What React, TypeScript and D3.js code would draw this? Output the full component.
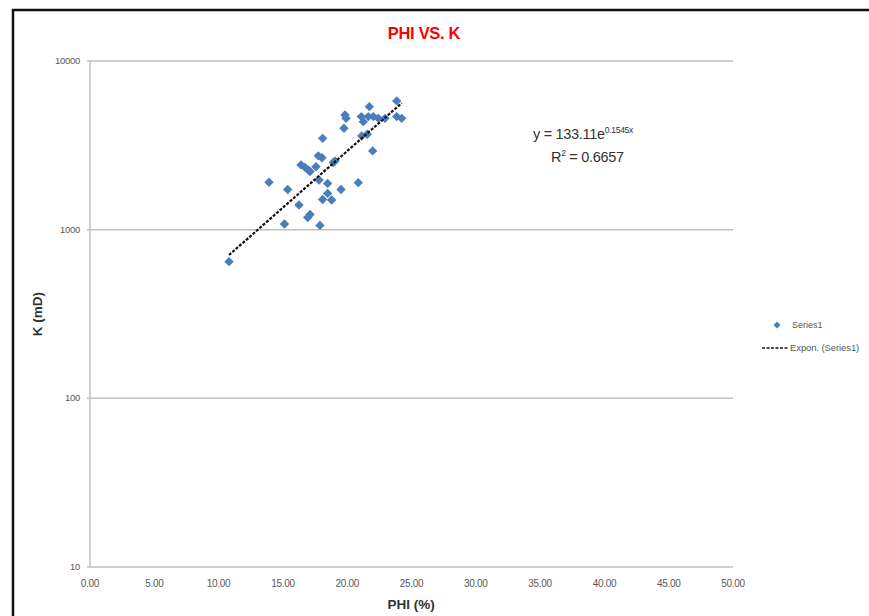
import React from "react";
import * as d3 from "d3";

const phi: number[] = [
  23.85, 21.72, 19.83, 19.91, 21.1, 21.25, 21.64, 22.03, 22.42, 22.94,
  23.85, 24.24, 19.75, 21.13, 21.56, 18.09, 21.98, 17.75, 18.04, 19.05,
  18.92, 16.41, 16.72, 16.98, 17.11, 17.57, 13.92, 17.81, 18.48, 20.86,
  15.37, 19.52, 18.48, 18.09, 18.79, 16.25, 17.11, 16.93, 15.12, 17.88,
  10.81,
];
const perm: number[] = [
  5800, 5360, 4790, 4570, 4680, 4370, 4680, 4680, 4570, 4570,
  4680, 4570, 3990, 3590, 3680, 3480, 2930, 2740, 2670, 2550,
  2500, 2420, 2340, 2260, 2210, 2360, 1910, 1970, 1880, 1900,
  1730, 1730, 1640, 1510, 1500, 1400, 1230, 1180, 1080, 1060,
  646,
];
const xTicks: number[] = [0, 5, 10, 15, 20, 25, 30, 35, 40, 45, 50];
const yTicks: number[] = [10, 100, 1000, 10000];
const trendA = 133.11;
const trendB = 0.1545;
const title = "PHI VS. K";
const xTitle = "PHI (%)";
const yTitle = "K (mD)";
const seriesName = "Series1";
const trendName = "Expon. (Series1)";

const FONT = "'Liberation Sans', Arial, sans-serif";
const BLUE = "#4a7ebb";
const GRID = "#bfbfbf";
const TXT = "#595959";

export default function App() {
  const W = 869;
  const H = 616;
  const left = 90;
  const right = 733;
  const top = 61;
  const bottom = 567;

  const x = d3.scaleLinear().domain([0, 50]).range([left, right]);
  const y = d3.scaleLog().domain([10, 10000]).range([bottom, top]);

  const xmin = d3.min(phi) as number;
  const xmax = d3.max(phi) as number;
  const trendPts: [number, number][] = d3
    .range(0, 101)
    .map((i) => {
      const xv = xmin + ((xmax - xmin) * i) / 100;
      return [xv, trendA * Math.exp(trendB * xv)];
    });
  const line = d3
    .line<[number, number]>()
    .x((d) => x(d[0]))
    .y((d) => y(d[1]));

  const marker = d3.symbol(d3.symbolSquare, 44)() as string;

  return (
    <svg
      width={W}
      height={H}
      style={{ position: "absolute", left: 0, top: 0, background: "#fff" }}
      fontFamily={FONT}
    >
      <rect x={0} y={0} width={W} height={H} fill="#fff" />
      {/* outer frame */}
      <line x1={12} y1={10} x2={W} y2={10} stroke="#111" strokeWidth={2.5} />
      <line x1={13} y1={9} x2={13} y2={H} stroke="#111" strokeWidth={2.5} />

      <text
        x={424}
        y={39}
        textAnchor="middle"
        fill="#ff0000"
        fontWeight="bold"
        fontSize={16.5}
        letterSpacing={-0.3}
      >
        {title}
      </text>

      {/* gridlines */}
      {yTicks.map((t) => (
        <g key={t}>
          <line x1={left - 3} x2={right} y1={y(t)} y2={y(t)} stroke={GRID} strokeWidth={1.5} />
          <text x={80} y={y(t) + 3} textAnchor="end" fontSize={9.5} fill={TXT} letterSpacing={-0.3}>
            {t}
          </text>
        </g>
      ))}
      <line x1={left} x2={left} y1={top} y2={bottom} stroke={GRID} strokeWidth={1.5} />

      {xTicks.map((t) => (
        <text key={t} x={x(t)} y={587} textAnchor="middle" fontSize={10} fill={TXT} letterSpacing={-0.3}>
          {t.toFixed(2)}
        </text>
      ))}

      <text x={411} y={609} textAnchor="middle" fontWeight="bold" fontSize={13.5} fill="#333">
        {xTitle}
      </text>
      <text
        transform={`translate(42,314) rotate(-90)`}
        textAnchor="middle"
        fontWeight="bold"
        fontSize={13.5}
        fill="#333"
      >
        {yTitle}
      </text>

      {/* points */}
      {phi.map((p, i) => (
        <path
          key={i}
          d={marker}
          transform={`translate(${x(p)},${y(perm[i])}) rotate(45)`}
          fill={BLUE}
        />
      ))}

      {/* trendline */}
      <path
        d={line(trendPts) as string}
        fill="none"
        stroke="#111"
        strokeWidth={2.2}
        strokeDasharray="3,1.5"
      />

      {/* equation */}
      <text x={533} y={139} fontSize={14.5} fill="#333" letterSpacing={-0.3}>
        y = 133.11e
        <tspan dy={-6} fontSize={8.5}>
          0.1545x
        </tspan>
      </text>
      <text x={551} y={162} fontSize={14.5} fill="#333" letterSpacing={-0.3}>
        R
        <tspan dy={-6} fontSize={8.5}>
          2
        </tspan>
        <tspan dy={6}> = 0.6657</tspan>
      </text>

      {/* legend */}
      <path d={marker} transform="translate(777,325) rotate(45) scale(0.75)" fill={BLUE} />
      <text x={792} y={328} fontSize={9} fill={TXT}>
        {seriesName}
      </text>
      <line x1={762} x2={789} y1={348} y2={348} stroke="#111" strokeWidth={1.5} strokeDasharray="3,1.5" />
      <text x={790} y={351} fontSize={9.5} fill={TXT} letterSpacing={-0.1}>
        {trendName}
      </text>
    </svg>
  );
}
